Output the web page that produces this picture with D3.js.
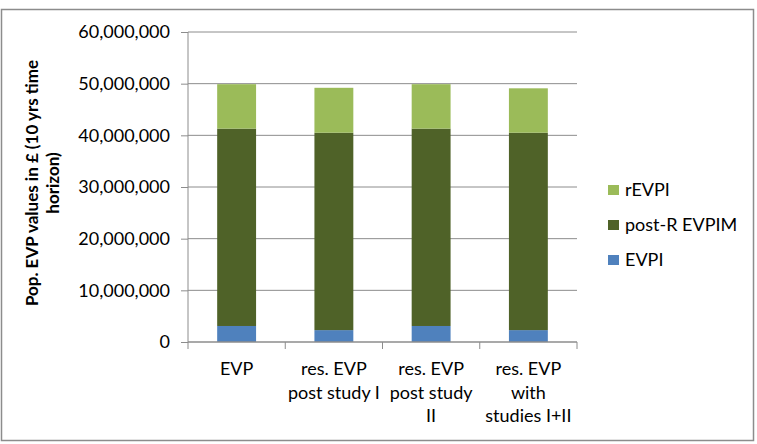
<!DOCTYPE html>
<html>
<head>
<meta charset="utf-8">
<script src="https://cdn.jsdelivr.net/npm/d3@7"></script>
<style>
  body { margin: 0; background: #fff; }
  svg text { font-family: Lato, "Open Sans", sans-serif; fill: #000; }
</style>
</head>
<body>
<svg id="chart" width="757" height="444"></svg>
<script>
  // Data (values in £)
  var categories = ['EVP', 'res. EVP post study I', 'res. EVP post study II', 'res. EVP with studies I+II'];
  var categoryLines = [['EVP'], ['res. EVP', 'post study I'], ['res. EVP', 'post study', 'II'], ['res. EVP', 'with', 'studies I+II']];
  var evpi = [3100000, 2300000, 3100000, 2300000];
  var postR = [38200000, 38200000, 38200000, 38200000];
  var rEvpi = [8600000, 8700000, 8600000, 8600000];
  var seriesNames = ['EVPI', 'post-R EVPIM', 'rEVPI'];
  var seriesColors = ['#4F81BD', '#4F6228', '#9BBB59'];
  var yTicks = [0, 10000000, 20000000, 30000000, 40000000, 50000000, 60000000];

  var svg = d3.select('#chart');
  var margin = { left: 188, right: 577, top: 32, bottom: 342 };
  var fs = '18px';

  // outer frame
  svg.append('rect').attr('x', 1.5).attr('y', 9.5).attr('width', 752).attr('height', 431)
    .attr('fill', 'none').attr('stroke', '#8c8c8c').attr('stroke-width', 1.5);

  var rows = categories.map(function (c, i) {
    return { cat: c, EVPI: evpi[i], 'post-R EVPIM': postR[i], rEVPI: rEvpi[i] };
  });
  var stacked = d3.stack().keys(seriesNames)(rows);

  var x = d3.scaleBand().domain(categories).range([margin.left, margin.right]).paddingInner(0).paddingOuter(0);
  var y = d3.scaleLinear().domain([0, 60000000]).range([margin.bottom, margin.top]);

  // gridlines
  svg.append('g').selectAll('line').data(yTicks.slice(1)).enter().append('line')
    .attr('x1', margin.left).attr('x2', margin.right)
    .attr('y1', function (d) { return y(d); }).attr('y2', function (d) { return y(d); })
    .attr('stroke', '#8c8c8c').attr('stroke-width', 1);

  // bars
  var barW = x.bandwidth() * 0.4;
  svg.append('g').selectAll('g').data(stacked).enter().append('g')
    .attr('fill', function (d, i) { return seriesColors[i]; })
    .selectAll('rect').data(function (d) { return d; }).enter().append('rect')
    .attr('x', function (d) { return x(d.data.cat) + (x.bandwidth() - barW) / 2; })
    .attr('width', barW)
    .attr('y', function (d) { return y(d[1]); })
    .attr('height', function (d) { return y(d[0]) - y(d[1]); });

  // y axis
  var yAxis = svg.append('g').attr('transform', 'translate(' + margin.left + ',0)')
    .call(d3.axisLeft(y).tickValues(yTicks).tickSize(7).tickPadding(11)
      .tickFormat(function (d) { return d3.format(',')(d); }));
  yAxis.select('.domain').attr('stroke', '#8c8c8c').attr('d', 'M0,' + margin.top + 'V' + margin.bottom);
  yAxis.selectAll('.tick line').attr('stroke', '#8c8c8c');
  yAxis.selectAll('.tick text').style('font-size', fs).style('font-family', 'Lato, sans-serif').attr('fill', '#000');

  // x axis
  var xAxis = svg.append('g').attr('transform', 'translate(0,' + margin.bottom + ')');
  xAxis.append('line').attr('x1', margin.left).attr('x2', margin.right)
    .attr('stroke', '#8c8c8c').attr('stroke-width', 1.5);
  var bounds = categories.map(function (c) { return x(c); }).concat([margin.right]);
  xAxis.selectAll('.xt').data(bounds).enter().append('line')
    .attr('x1', function (d) { return d; }).attr('x2', function (d) { return d; })
    .attr('y1', 0).attr('y2', 7).attr('stroke', '#8c8c8c');
  xAxis.selectAll('.xl').data(categories).enter().append('text')
    .attr('text-anchor', 'middle').style('font-size', fs)
    .attr('x', function (d) { return x(d) + x.bandwidth() / 2; })
    .each(function (d, i) {
      var t = d3.select(this);
      categoryLines[i].forEach(function (ln, j) {
        t.append('tspan').attr('x', x(d) + x.bandwidth() / 2).attr('y', 33 + j * 23.5).text(ln);
      });
    });

  // y axis title
  var yt = svg.append('text').attr('transform', 'translate(0,183) rotate(-90)')
    .attr('text-anchor', 'middle').style('font-size', '17px').style('font-weight', 'bold');
  yt.append('tspan').attr('x', 0).attr('y', 38).text('Pop. EVP values in £ (10 yrs time');
  yt.append('tspan').attr('x', 0).attr('y', 59).text('horizon)');

  // legend (reverse order, like the stack)
  var legendItems = seriesNames.slice().reverse();
  var lg = svg.append('g').selectAll('g').data(legendItems).enter().append('g')
    .attr('transform', function (d, i) { return 'translate(608,' + (185 + i * 35) + ')'; });
  lg.append('rect').attr('width', 11).attr('height', 10)
    .attr('fill', function (d) { return seriesColors[seriesNames.indexOf(d)]; });
  lg.append('text').attr('x', 17).attr('y', 10.5).style('font-size', fs).text(function (d) { return d; });
</script>
</body>
</html>
